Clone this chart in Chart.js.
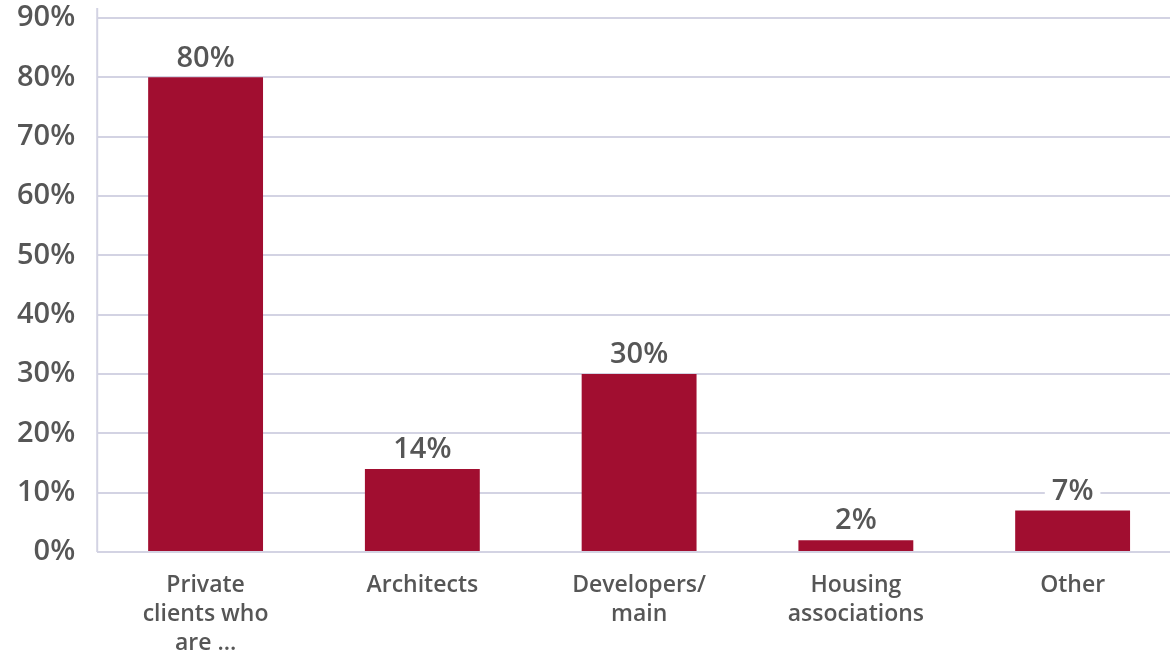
<!DOCTYPE html>
<html>
<head>
<meta charset="utf-8">
<script src="https://cdn.jsdelivr.net/npm/chart.js@4.4.1/dist/chart.umd.min.js"></script>
<style>
  html, body { margin: 0; padding: 0; background: #fff; overflow: hidden; }
  #wrap { width: 1181px; height: 654px; position: relative; }
</style>
</head>
<body>
<div id="wrap"><canvas id="chart"></canvas></div>
<script>
// data
const categories = [
    ['Private', 'clients who', 'are ...'],
    'Architects',
    ['Developers/', 'main'],
    ['Housing', 'associations'],
    'Other'
];
const shares = [80, 14, 30, 2, 7];
const yTicks = [0, 10, 20, 30, 40, 50, 60, 70, 80, 90];

const barColor = '#a10e30';
const textColor = '#565656';
const gridColor = '#d3d3e3';
const fontFamily = "'Open Sans', 'Noto Sans', sans-serif";

// value labels above each bar, with a white box behind so gridlines don't run through
const barLabels = {
    id: 'barLabels',
    afterDatasetsDraw(chart) {
        const ctx = chart.ctx;
        const meta = chart.getDatasetMeta(0);
        ctx.save();
        ctx.font = '600 29px ' + fontFamily;
        ctx.textAlign = 'center';
        ctx.textBaseline = 'middle';
        meta.data.forEach((bar, i) => {
            const txt = shares[i] + '%';
            const y = bar.y - 19;
            const w = ctx.measureText(txt).width + 14;
            ctx.fillStyle = '#fff';
            ctx.fillRect(bar.x - w / 2, y - 13, w, 26);
            ctx.fillStyle = textColor;
            ctx.fillText(txt, bar.x, y);
        });
        ctx.restore();
    }
};

// y axis line runs a little past the top gridline
const axisLine = {
    id: 'axisLine',
    afterDraw(chart) {
        const ctx = chart.ctx;
        const area = chart.chartArea;
        ctx.save();
        ctx.strokeStyle = gridColor;
        ctx.lineWidth = 2;
        ctx.beginPath();
        ctx.moveTo(area.left, 8);
        ctx.lineTo(area.left, area.bottom);
        ctx.stroke();
        ctx.restore();
    }
};

new Chart(document.getElementById('chart'), {
    type: 'bar',
    data: {
        labels: categories,
        datasets: [{
            data: shares,
            backgroundColor: barColor,
            barPercentage: 0.53,
            categoryPercentage: 1
        }]
    },
    options: {
        responsive: true,
        maintainAspectRatio: false,
        animation: false,
        layout: { padding: { top: 18, left: -5, right: 0, bottom: -23 } },
        plugins: {
            legend: { display: false },
            tooltip: { enabled: false }
        },
        scales: {
            x: {
                grid: { display: false, drawTicks: false },
                border: { display: false },
                ticks: {
                    color: textColor,
                    font: { family: fontFamily, size: 23, weight: '600', lineHeight: 1.26 },
                    maxRotation: 0,
                    autoSkip: false,
                    padding: 19
                }
            },
            y: {
                min: 0,
                max: 90,
                afterBuildTicks(axis) {
                    axis.ticks = yTicks.map(v => ({ value: v }));
                },
                afterFit(axis) {
                    axis.paddingTop = 0;
                },
                grid: { color: gridColor, lineWidth: 2, drawTicks: false },
                border: { display: false },
                ticks: {
                    color: textColor,
                    font: { family: fontFamily, size: 29, weight: '600' },
                    padding: 22,
                    callback: v => v + '%'
                }
            }
        }
    },
    plugins: [barLabels, axisLine]
});
</script>
</body>
</html>
